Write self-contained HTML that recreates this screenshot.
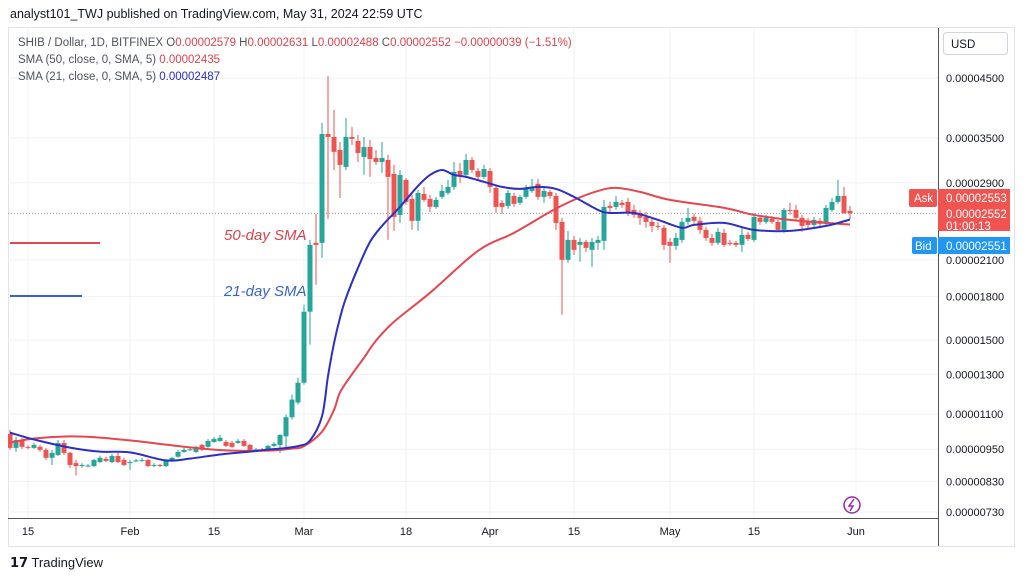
<!DOCTYPE html>
<html><head><meta charset="utf-8">
<style>
html,body{margin:0;padding:0;background:#fff;width:1024px;height:581px;overflow:hidden;font-family:"Liberation Sans",sans-serif;}
#top{position:absolute;left:10px;top:7px;font-size:12.5px;color:#131722;}
#foot{position:absolute;left:10px;top:555px;font-size:13px;color:#131722;}
svg{position:absolute;left:0;top:0;}
</style></head><body>
<div id="top">analyst101_TWJ published on TradingView.com, May 31, 2024 22:59 UTC</div>
<div id="foot"><b style="font-family:'DejaVu Sans';font-size:13px">𝟭𝟳</b> TradingView</div>
<svg id="chart" width="1024" height="581"></svg>
<script>
const opens=[1012,955,987,959,955,959,947,916,927,975,935,896,885,885,885,900,912,900,923,908,896,904,906,908,887,889,885,904,920,939,947,939,967,959,979,983,979,975,975,983,967,947,949,947,963,967,1002,1086,1155,1255,1690,2255,2255,3559,3515,3329,3100,3515,3456,3232,3370,3219,3165,3192,3010,2535,2936,2711,2473,2768,2711,2622,2734,2780,2851,3048,2998,3192,3048,2973,3048,2839,2667,2633,2745,2667,2734,2803,2887,2734,2792,2745,2462,2100,2283,2236,2264,2190,2255,2274,2633,2622,2667,2677,2589,2556,2514,2462,2421,2402,2264,2227,2283,2462,2514,2473,2381,2302,2255,2351,2255,2255,2236,2332,2283,2504,2462,2493,2462,2381,2589,2589,2504,2473,2431,2473,2442,2589,2677,2745,2579];
const closes=[955,987,959,955,967,947,916,935,975,935,889,885,889,887,908,916,904,923,900,889,900,906,908,885,889,885,904,916,939,947,949,959,947,983,991,996,963,959,983,963,947,949,947,963,971,1008,1086,1169,1255,1690,2236,2236,3559,3515,3302,3126,3515,3486,3287,3370,3205,3165,3219,2973,2514,2998,2677,2473,2780,2700,2622,2700,2803,2851,3036,2998,3192,3061,2973,3073,2851,2622,2622,2780,2655,2734,2839,2851,2734,2803,2745,2452,2100,2283,2190,2264,2208,2264,2283,2622,2611,2677,2644,2556,2535,2504,2462,2421,2411,2236,2227,2302,2462,2504,2473,2381,2302,2255,2361,2236,2245,2236,2332,2293,2514,2462,2504,2462,2381,2589,2578,2504,2421,2431,2483,2442,2611,2677,2745,2556,2552];
const highs=[1029,1000,996,965,975,967,955,947,987,987,939,908,896,892,912,924,920,931,935,916,908,912,916,912,896,892,908,920,947,955,955,963,971,991,1000,1008,987,983,991,991,971,955,955,967,979,1012,1098,1194,1282,1740,2283,2546,3730,4538,3935,3442,3806,3666,3544,3515,3471,3329,3442,3260,3126,3061,2961,2757,2815,2851,2757,2734,2875,2936,3165,3152,3273,3232,3087,3126,3087,2875,2700,2815,2780,2757,2875,2949,2949,2839,2815,2780,2504,2371,2322,2302,2283,2302,2322,2700,2677,2745,2700,2722,2644,2589,2567,2504,2462,2431,2302,2351,2504,2611,2546,2514,2411,2341,2402,2391,2283,2274,2402,2361,2556,2535,2535,2524,2483,2611,2667,2644,2535,2504,2514,2504,2644,2722,2936,2851,2631];
const lows=[947,939,951,950,951,939,908,889,923,927,878,850,878,880,881,896,900,896,896,885,871,900,900,881,881,881,881,900,916,935,943,935,943,955,975,979,959,955,971,959,943,943,943,943,959,935,948,1075,1145,1245,1472,1891,2117,2493,3061,2722,3061,3399,3165,2998,2973,3126,3023,2283,2371,2452,2644,2381,2371,2677,2567,2600,2711,2757,2815,2900,2961,3023,2936,2949,2780,2556,2546,2600,2622,2644,2711,2780,2700,2667,2711,2381,1668,2074,2144,2083,2171,2039,2190,2190,2567,2589,2611,2524,2504,2431,2402,2361,2381,2190,2074,2190,2255,2431,2442,2341,2274,2227,2236,2217,2227,2217,2171,2274,2264,2431,2442,2442,2361,2351,2535,2473,2361,2391,2411,2411,2421,2567,2655,2546,2488];
const sma21Idx=[0,4,10,15,20,26,30,35,40,43,45,48,50,52,53,54,55,56,58,60,62,65,68,70,72,74,76,79,82,85,88,91,94,98,100,104,108,112,114,119,124,130,136,140];
const sma21Vals=[1018,989,956,940,937,906,913,929,940,948,952,962,985,1090,1290,1480,1647,1790,2031,2264,2421,2622,2863,2998,3061,2998,2973,2912,2851,2827,2851,2827,2734,2589,2556,2556,2483,2402,2431,2452,2381,2371,2421,2487];
const sma50Idx=[0,4,10,15,22,26,32,37,43,47,49,52,54,55,57,59,61,64,70,78,84,90,94,98,101,105,110,119,124,130,136,140];
const sma50Vals=[976,993,1002,997,980,968,952,944,944,952,962,1022,1120,1205,1300,1393,1497,1620,1829,2181,2351,2567,2700,2803,2839,2792,2700,2611,2535,2483,2452,2435];
const priceTicks=[4500,3500,2900,2100,1800,1500,1300,1100,950,830,730];
const dateLabels=['15','Feb','15','Mar','18','Apr','15','May','15','Jun'];
const dateIdx=[3,20,34,49,66,80,94,110,124,141];

const NS='http://www.w3.org/2000/svg';
const svg=document.getElementById('chart');
const PL=8,PR=938,PT=28,PB=518;
function yS(v){return 78+(Math.log(4500)-Math.log(v))*238.6;}
function xS(i){return 10+6*i;}
function mk(tag,attrs,parent){const e=document.createElementNS(NS,tag);for(const k in attrs)e.setAttribute(k,attrs[k]);(parent||svg).appendChild(e);return e;}
function fmt(v){return (v*1e-8).toFixed(8);}

const frame=mk('rect',{x:8.5,y:27.5,width:1006,height:519,fill:'none',stroke:'#e0e3eb'});


const grid=mk('g',{});


priceTicks.forEach(p=>{mk('line',{x1:PL,x2:PR,y1:yS(p),y2:yS(p),stroke:'#eef1f6'},grid);});
dateIdx.forEach(d=>{mk('line',{x1:xS(d),x2:xS(d),y1:PT,y2:PB,stroke:'#eef1f6'},grid);});
const pa=mk('line',{x1:938.5,x2:938.5,y1:28,y2:546,stroke:'#50535e'});


const ta=mk('line',{x1:8,x2:938,y1:518.5,y2:518.5,stroke:'#50535e'});


priceTicks.forEach(p=>{const t=mk('text',{x:946,y:yS(p)+4,'font-size':11,fill:'#131722'});t.textContent=fmt(p);

});
dateLabels.forEach((l,k)=>{const t=mk('text',{x:xS(dateIdx[k]),y:535,'font-size':11,fill:'#131722','text-anchor':'middle'});t.textContent=l;

});
const defs=mk('defs',{});const cp=mk('clipPath',{id:'pc'},defs);mk('rect',{x:PL,y:PT,width:PR-PL,height:PB-PT},cp);
const plot=mk('g',{'clip-path':'url(#pc)'});
const dl=mk('line',{x1:PL,x2:PR,y1:yS(2552),y2:yS(2552),stroke:'#9598a1','stroke-dasharray':'1,2'},plot);


for(let i=0;i<opens.length;i++){
  const up=closes[i]>=opens[i];const c=up?'#26a69a':'#ef5350';const x=xS(i);
  const g=mk('g',{},plot);
  
  
  mk('line',{x1:x,x2:x,y1:yS(highs[i]),y2:yS(lows[i]),stroke:c,'stroke-width':1},g);
  const t=Math.min(yS(opens[i]),yS(closes[i]));const h=Math.max(1,Math.abs(yS(opens[i])-yS(closes[i])));
  mk('rect',{x:x-2.5,y:t,width:5,height:h,fill:c},g);
}
function curve(idx,vals){const pts=idx.map((d,k)=>[xS(d),yS(vals[k])]);let s='M'+pts[0][0]+','+pts[0][1];
for(let k=0;k<pts.length-1;k++){const p0=pts[Math.max(0,k-1)],p1=pts[k],p2=pts[k+1],p3=pts[Math.min(pts.length-1,k+2)];
s+=' C'+(p1[0]+(p2[0]-p0[0])/6)+','+(p1[1]+(p2[1]-p0[1])/6)+' '+(p2[0]-(p3[0]-p1[0])/6)+','+(p2[1]-(p3[1]-p1[1])/6)+' '+p2[0]+','+p2[1];}return s;}
const s50=mk('path',{d:curve(sma50Idx,sma50Vals),fill:'none',stroke:'#e5464f','stroke-width':2},plot);


const s21=mk('path',{d:curve(sma21Idx,sma21Vals),fill:'none',stroke:'#2e2ec2','stroke-width':2},plot);


const a1=mk('line',{x1:10,x2:100,y1:243,y2:243,stroke:'#e5464f','stroke-width':2});


const a2=mk('line',{x1:10,x2:82,y1:296,y2:296,stroke:'#3a5fd0','stroke-width':2});


const t1=mk('text',{x:224,y:240,'font-size':15,'font-style':'italic',fill:'#d9434c'});t1.textContent='50-day SMA';


const t2=mk('text',{x:224,y:296,'font-size':15,'font-style':'italic',fill:'#3a64c8'});t2.textContent='21-day SMA';


function legend(y,parts,name){const t=mk('text',{x:18,y:y,'font-size':11.5});parts.forEach(p=>{const s=mk('tspan',{fill:p[1]},t);s.textContent=p[0];});

}
legend(46,[['SHIB / Dollar, 1D, BITFINEX  O','#50535e'],['0.00002579','#e0434c'],['  H','#50535e'],['0.00002631','#e0434c'],['  L','#50535e'],['0.00002488','#e0434c'],['  C','#50535e'],['0.00002552','#e0434c'],['  −0.00000039 (−1.51%)','#e0434c']],'legend-symbol');
legend(63,[['SMA (50, close, 0, SMA, 5)  ','#50535e'],['0.00002435','#e0434c']],'legend-sma-50');
legend(80,[['SMA (21, close, 0, SMA, 5)  ','#50535e'],['0.00002487','#2a2ad0']],'legend-sma-21');
const ub=mk('rect',{x:943.5,y:32.5,width:64,height:22,rx:3,fill:'#fff',stroke:'#d1d4dc'});


const ut=mk('text',{x:951,y:48,'font-size':11.5,fill:'#131722'});ut.textContent='USD';


const ak=mk('rect',{x:909,y:189,width:28,height:18,rx:2,fill:'#f05350'});


const akt=mk('text',{x:914,y:202,'font-size':11.5,fill:'#fff'});akt.textContent='Ask';


const pb=mk('rect',{x:938,y:189,width:72,height:42,fill:'#f05350'});


[['0.00002553',202],['0.00002552',218],['01:00:13',230]].forEach(p=>{const t=mk('text',{x:946,y:p[1],'font-size':11.5,fill:'#fff'});t.textContent=p[0];

});
const bk=mk('rect',{x:912,y:237,width:25,height:17,rx:2,fill:'#2196f3'});


const bkt=mk('text',{x:915,y:250,'font-size':11.5,fill:'#fff'});bkt.textContent='Bid';


const bb=mk('rect',{x:938,y:237,width:72,height:17,fill:'#2196f3'});


const bbt=mk('text',{x:946,y:250,'font-size':11.5,fill:'#fff'});bbt.textContent='0.00002551';


const ic=mk('g',{});


mk('circle',{cx:852,cy:505,r:8,fill:'#fff',stroke:'#9c27b0','stroke-width':1.5},ic);
mk('path',{d:'M854,499 L849,506 L853,506 L850,511',fill:'none',stroke:'#9c27b0','stroke-width':1.5},ic);
</script>
</body></html>
